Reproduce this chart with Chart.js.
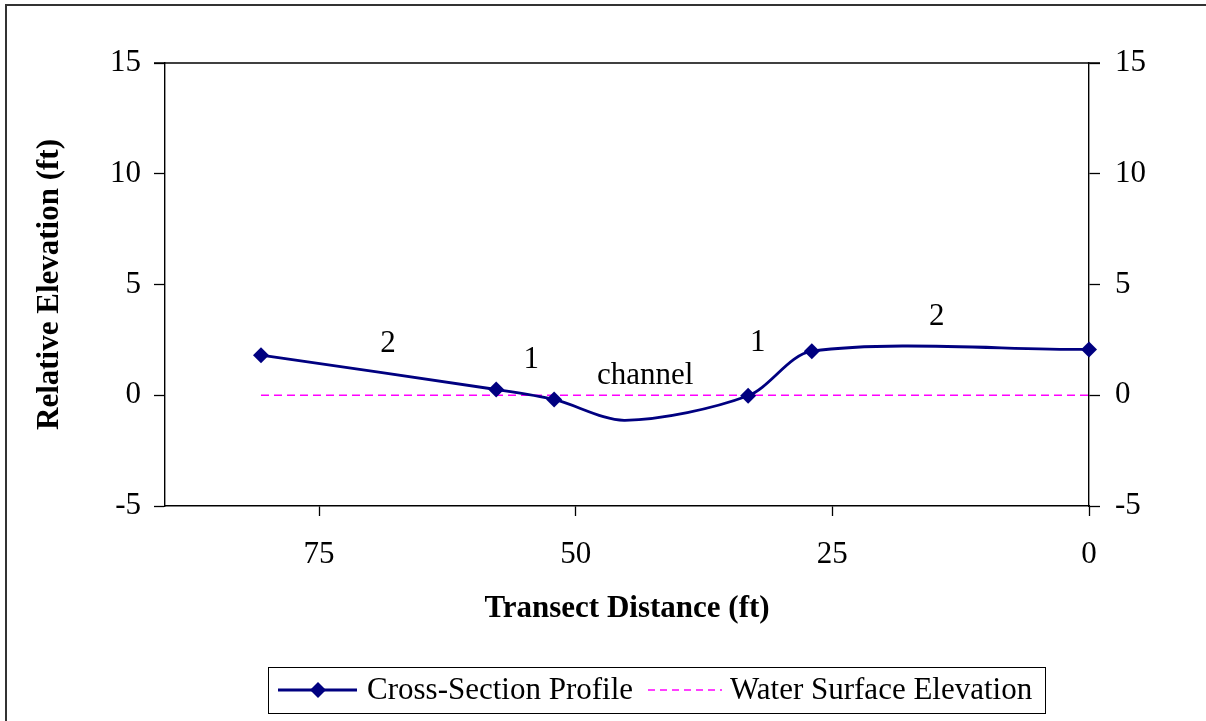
<!DOCTYPE html>
<html><head><meta charset="utf-8">
<script src="https://cdn.jsdelivr.net/npm/chart.js@4.4.0/dist/chart.umd.min.js"></script>
<style>html,body{margin:0;padding:0;background:#fff;}#wrap{width:1206px;height:721px;position:relative;}</style>
</head><body><div id="wrap"><canvas id="c" width="1206" height="721"></canvas></div>
<script>
// ---- data ----
const profileX = [80.65, 57.74, 52.1, 45.2, 33.2, 27.0, 0];
const profileY = [1.81, 0.26, -0.19, -1.13, -0.02, 1.99, 2.07];
const profileMarker = [true, true, true, false, true, true, true];
const waterX = [80.65, 0];
const waterY = [0, 0];
const xTicks = [0, 25, 50, 75];
const yTicks = [-5, 0, 5, 10, 15];
const noteText = ['2', '1', 'channel', '1', '2'];
const noteX = [68.29, 54.33, 43.23, 32.26, 14.84];
const noteY = [2.33, 1.59, 0.86, 2.36, 3.53];
const seriesNames = ['Cross-Section Profile', 'Water Surface Elevation'];

const FONT = '"Liberation Serif", "Times New Roman", serif';
const NAVY = '#000080';
const MAG = '#FF00FF';

const framePlugin = {
  id: 'frame',
  beforeDraw(chart) {
    const ctx = chart.ctx;
    ctx.save();
    ctx.fillStyle = '#fff';
    ctx.fillRect(0, 0, chart.width, chart.height);
    ctx.strokeStyle = '#333';
    ctx.lineWidth = 2;
    ctx.beginPath();
    ctx.moveTo(6, chart.height + 5); ctx.lineTo(6, 5); ctx.lineTo(chart.width + 5, 5);
    ctx.stroke();
    ctx.restore();
  },
  beforeDatasetsDraw(chart) {
    const ctx = chart.ctx, a = chart.chartArea;
    ctx.save();
    ctx.strokeStyle = '#000';
    ctx.lineWidth = 1.4;
    ctx.beginPath();
    ctx.moveTo(a.left - 11, a.top); ctx.lineTo(a.right + 11, a.top);
    ctx.stroke();
    ctx.restore();
  },
  afterDraw(chart) {
    const ctx = chart.ctx;
    const xs = chart.scales.x, ys = chart.scales.y;
    ctx.save();
    ctx.fillStyle = '#000';
    ctx.font = '31px ' + FONT;
    ctx.textAlign = 'center';
    ctx.textBaseline = 'middle';
    noteText.forEach((t, i) => {
      ctx.fillText(t, xs.getPixelForValue(noteX[i]), ys.getPixelForValue(noteY[i]));
    });
    // legend
    ctx.strokeStyle = '#000';
    ctx.lineWidth = 1;
    ctx.strokeRect(268.5, 667.5, 777, 46);
    const ly = 690;
    ctx.strokeStyle = NAVY; ctx.lineWidth = 2.8;
    ctx.beginPath(); ctx.moveTo(278, ly); ctx.lineTo(357, ly); ctx.stroke();
    ctx.fillStyle = NAVY;
    ctx.beginPath(); ctx.moveTo(318, ly - 8); ctx.lineTo(326, ly); ctx.lineTo(318, ly + 8); ctx.lineTo(310, ly); ctx.closePath(); ctx.fill();
    ctx.strokeStyle = MAG; ctx.lineWidth = 1.6; ctx.setLineDash([7, 5]);
    ctx.beginPath(); ctx.moveTo(648, ly); ctx.lineTo(722, ly); ctx.stroke();
    ctx.setLineDash([]);
    ctx.fillStyle = '#000';
    ctx.textAlign = 'left';
    ctx.fillText(seriesNames[0], 367, ly + 1);
    ctx.fillText(seriesNames[1], 730, ly + 1);
    ctx.restore();
  }
};

const tickFont = { family: FONT, size: 31 };
new Chart(document.getElementById('c'), {
  type: 'scatter',
  data: {
    datasets: [
      {
        label: seriesNames[0],
        data: profileX.map((x, i) => ({ x, y: profileY[i] })),
        showLine: true,
        borderColor: NAVY,
        backgroundColor: NAVY,
        borderWidth: 2.8,
        tension: 0.3,
        pointStyle: 'rectRot',
        pointRadius: c => profileMarker[c.dataIndex] ? 8 : 0,
        pointHoverRadius: c => profileMarker[c.dataIndex] ? 8 : 0,
        pointBorderWidth: 0,
        clip: false
      },
      {
        label: seriesNames[1],
        data: waterX.map((x, i) => ({ x, y: waterY[i] })),
        showLine: true,
        borderColor: MAG,
        borderWidth: 1.6,
        borderDash: [8, 5],
        pointRadius: 0,
        clip: false
      }
    ]
  },
  options: {
    responsive: false,
    animation: false,
    devicePixelRatio: 1,
    layout: { padding: { top: 63, bottom: 92, left: 0, right: 0 } },
    plugins: { legend: { display: false }, tooltip: { enabled: false } },
    scales: {
      x: {
        type: 'linear', reverse: true, min: 0, max: 90, position: 'bottom',
        afterBuildTicks: s => { s.ticks = xTicks.map(v => ({ value: v })); },
        afterFit: s => { s.height = 123; },
        ticks: { font: tickFont, color: '#000', padding: 20, maxRotation: 0, autoSkip: false },
        grid: { drawOnChartArea: false, tickLength: 10, tickColor: '#000', tickWidth: 1.3 },
        border: { color: '#000', width: 1.4 },
        title: { display: true, text: 'Transect Distance (ft)', color: '#000',
                 font: { family: FONT, size: 31, weight: 'bold' }, padding: { top: 0, bottom: 1 } }
      },
      y: {
        type: 'linear', min: -5, max: 15, position: 'left',
        afterBuildTicks: s => { s.ticks = yTicks.map(v => ({ value: v })); },
        afterFit: s => { s.width = 165; },
        ticks: { font: tickFont, color: '#000', padding: 13 },
        grid: { drawOnChartArea: false, tickLength: 11, tickColor: '#000', tickWidth: 1.3 },
        border: { color: '#000', width: 1.4 },
        title: { display: true, text: 'Relative Elevation (ft)', color: '#000',
                 font: { family: FONT, size: 31, weight: 'bold' }, padding: { top: 31, bottom: 0 } }
      },
      y2: {
        type: 'linear', min: -5, max: 15, position: 'right',
        afterBuildTicks: s => { s.ticks = yTicks.map(v => ({ value: v })); },
        afterFit: s => { s.width = 117; },
        ticks: { font: tickFont, color: '#000', padding: 15 },
        grid: { drawOnChartArea: false, tickLength: 11, tickColor: '#000', tickWidth: 1.3 },
        border: { color: '#000', width: 1.4 }
      }
    }
  },
  plugins: [framePlugin]
});
</script></body></html>
